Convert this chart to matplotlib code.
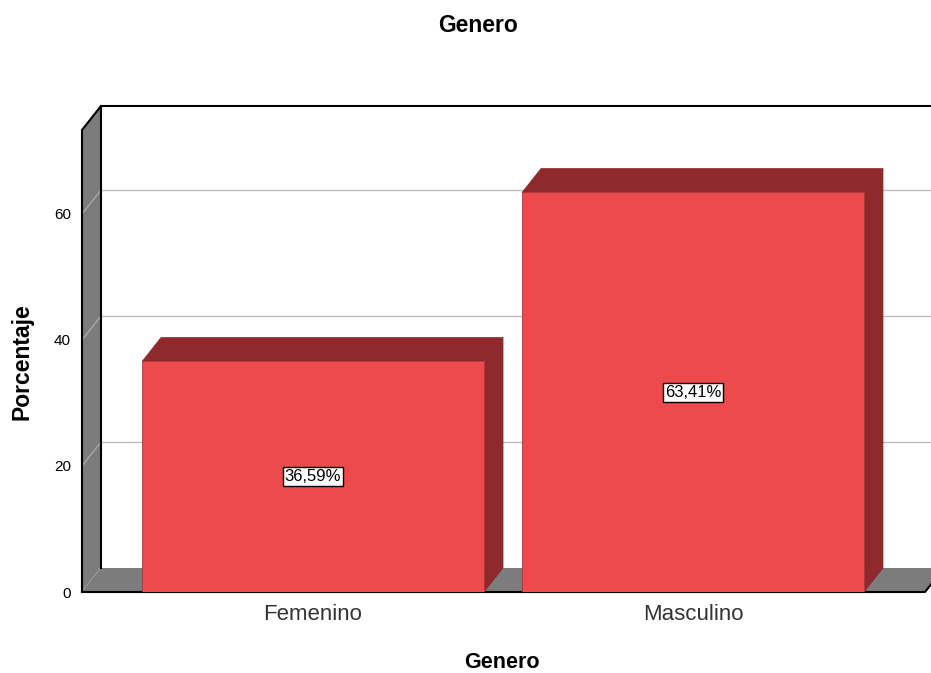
import numpy as np
import matplotlib
matplotlib.use("Agg")
import matplotlib.pyplot as plt
from matplotlib.patches import Polygon, Rectangle

plt.rcParams["font.family"] = ["Liberation Sans", "DejaVu Sans"]

# Datos
categorias = ["Femenino", "Masculino"]
porcentajes = [36.59, 63.41]
etiquetas = ["36,59%", "63,41%"]
yticks = [0, 20, 40, 60]

# Colores
rojo = "#EC4A4C"
rojo_osc = "#8E2A2D"
gris = "#7C7C7C"

fig = plt.figure(figsize=(9.31, 6.73), dpi=100)
W, H = 931, 673
ax = fig.add_axes([82 / W, (H - 592) / H, (925 - 82) / W, (592 - 130) / H])

xmin, xmax = -0.608, 1.6105
ymax = 73.33
ax.set_xlim(xmin, xmax)
ax.set_ylim(0, ymax)

# profundidad 3D (en unidades de datos)
dx = 19 / 380
dy = 24 / 6.3
ancho = 0.9

# pared del fondo
ax.add_patch(Rectangle((xmin + dx, dy), xmax - xmin, ymax, facecolor="white",
                       edgecolor="none", clip_on=False, zorder=0))
# lineas de rejilla en el fondo
for v in yticks[1:]:
    ax.plot([xmin + dx, xmax + dx], [v + dy, v + dy], color="#BDBDBD", lw=1,
            clip_on=False, zorder=1)

# pared izquierda
ax.add_patch(Polygon([(xmin, 0), (xmin + dx, dy), (xmin + dx, ymax + dy), (xmin, ymax)],
                     closed=True, facecolor=gris, edgecolor="none", clip_on=False, zorder=2))
for v in yticks:
    ax.plot([xmin, xmin + dx], [v, v + dy], color="#A8A8A8", lw=1, clip_on=False, zorder=2)

# suelo
ax.add_patch(Polygon([(xmin, 0), (xmax, 0), (xmax + dx, dy), (xmin + dx, dy)],
                     closed=True, facecolor=gris, edgecolor="none", clip_on=False, zorder=2))

# bordes negros del marco
k = dict(color="black", lw=1.5, clip_on=False, zorder=3, solid_capstyle="projecting")
ax.plot([xmin, xmin, xmin + dx, xmax + dx], [0, ymax, ymax + dy, ymax + dy], **k)
ax.plot([xmin + dx, xmin + dx], [dy, ymax + dy], **k)
ax.plot([xmin, xmax, xmax + dx], [0, 0, dy], **k)

# barras
for i, v in enumerate(porcentajes):
    x0 = i - ancho / 2
    x1 = i + ancho / 2
    ax.add_patch(Polygon([(x1, 0), (x1 + dx, dy), (x1 + dx, v + dy), (x1, v)], closed=True,
                         facecolor=rojo_osc, edgecolor=rojo_osc, lw=0.5, clip_on=False, zorder=4))
    ax.add_patch(Polygon([(x0, v), (x1, v), (x1 + dx, v + dy), (x0 + dx, v + dy)], closed=True,
                         facecolor=rojo_osc, edgecolor=rojo_osc, lw=0.5, clip_on=False, zorder=4))
ax.bar(range(len(porcentajes)), porcentajes, width=ancho, color=rojo,
       edgecolor="#B03538", linewidth=0.6, zorder=5)

for i, v in enumerate(porcentajes):
    ax.text(i, v / 2, etiquetas[i], ha="center", va="center", fontsize=12, zorder=6,
            bbox=dict(boxstyle="square,pad=0.12", facecolor="white", edgecolor="black", lw=1))

# ejes
for s in ax.spines.values():
    s.set_visible(False)
ax.set_facecolor("none")
ax.set_yticks(yticks)
ax.set_xticks(range(len(categorias)))
ax.set_xticklabels(categorias, fontsize=16, color="#333333")
ax.tick_params(axis="y", length=0, pad=8, labelsize=11)
ax.tick_params(axis="x", length=0, pad=9)

fig.text(478 / W, 1 - 25 / H, "Genero", ha="center", va="center", fontsize=16.5, fontweight="bold")
fig.text(502 / W, 1 - 663 / H, "Genero", ha="center", va="center", fontsize=15.5, fontweight="bold")
fig.text(22 / W, 1 - 362 / H, "Porcentaje", ha="center", va="center", rotation=90,
         fontsize=16.5, fontweight="bold")

fig.savefig("out.png", dpi=100)
